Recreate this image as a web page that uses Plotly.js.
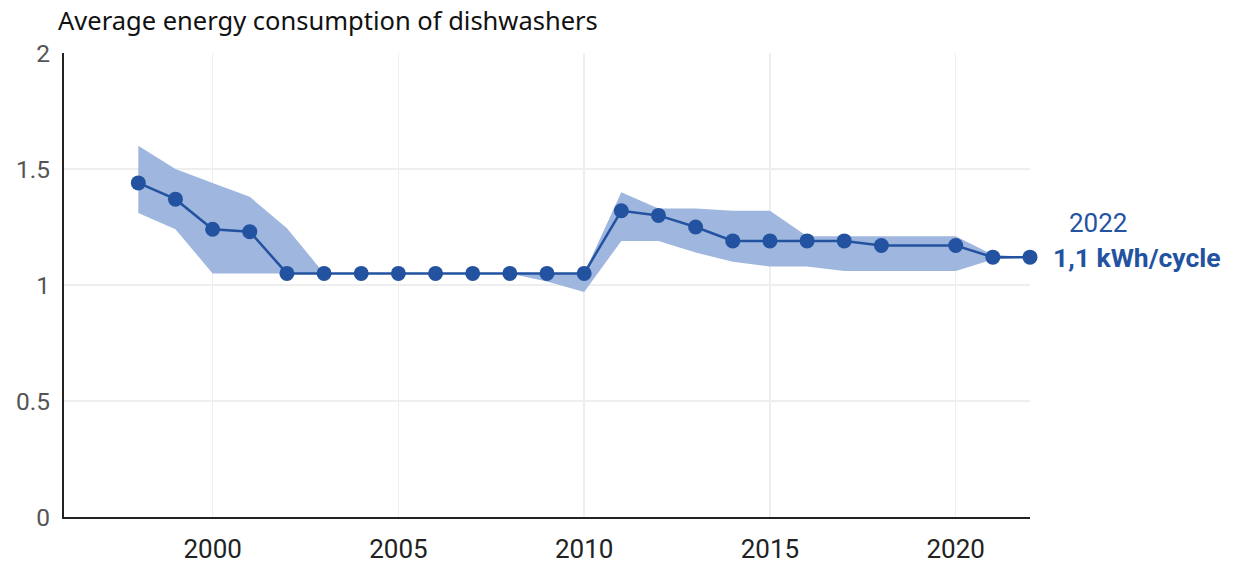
<!DOCTYPE html>
<html><head><meta charset="utf-8">
<script src="https://cdn.plot.ly/plotly-3.0.1.min.js"></script>
<style>body{margin:0;background:#fff}#chart{width:1240px;height:564px}</style>
</head><body><div id="chart"></div>
<script>
const years = [1998,1999,2000,2001,2002,2003,2004,2005,2006,2007,2008,2009,2010,2011,2012,2013,2014,2015,2016,2017,2018,2020,2021,2022];
const avg   = [1.44,1.37,1.24,1.23,1.05,1.05,1.05,1.05,1.05,1.05,1.05,1.05,1.05,1.32,1.30,1.25,1.19,1.19,1.19,1.19,1.17,1.17,1.12,1.12];
const upper = [1.60,1.50,1.44,1.38,1.245,1.05,1.05,1.05,1.05,1.05,1.05,1.05,1.05,1.40,1.33,1.33,1.32,1.32,1.21,1.21,1.21,1.21,1.13,1.12];
const lower = [1.31,1.24,1.05,1.05,1.05,1.05,1.05,1.05,1.05,1.05,1.05,1.015,0.97,1.19,1.19,1.14,1.10,1.08,1.08,1.06,1.06,1.06,1.11,1.12];
const xTicks = [2000,2005,2010,2015,2020];
const yTicks = [0,0.5,1,1.5,2];
const yTickText = ['0','0.5','1','1.5','2'];
const lastLabelYear = '2022';
const lastLabelValue = '1,1 kWh/cycle';

const blue = '#2353a0';
const band = '#9fb6de';

const traces = [
  {x: years, y: lower, mode:'lines', line:{width:0, color:band}, hoverinfo:'skip', showlegend:false},
  {x: years, y: upper, mode:'lines', line:{width:0, color:band}, fill:'tonexty', fillcolor:band, hoverinfo:'skip', showlegend:false},
  {x: years, y: avg, mode:'lines+markers', line:{color:blue, width:2.5}, marker:{color:blue, size:15}, cliponaxis:false, showlegend:false}
];
const lastIdx = years.length-1;
const layout = {
  width:1240, height:564,
  margin:{l:64, r:210, t:53, b:47},
  paper_bgcolor:'#fff', plot_bgcolor:'#fff',
  font:{family:'Roboto, sans-serif', color:'#222'},
  title:{text:'Average energy consumption of dishwashers', x:0, xref:'paper', xanchor:'left', y:0.963, yanchor:'middle', pad:{l:-6},
         font:{family:'Noto Sans, sans-serif', size:25.5, color:'#111'}},
  xaxis:{range:[1996,2022], tickvals:xTicks, ticktext:xTicks.map(String), showgrid:true, gridcolor:'#eeeeee', gridwidth:1.5,
         zeroline:false, showline:true, linecolor:'#222', linewidth:2, ticks:'', tickfont:{size:26, color:'#222'}, ticklabelstandoff:8},
  yaxis:{range:[0,2], tickvals:yTicks, ticktext:yTickText, showgrid:true, gridcolor:'#eeeeee', gridwidth:1.5,
         zeroline:false, showline:true, linecolor:'#222', linewidth:2, ticks:'', tickfont:{size:24.5, color:'#555'}, ticklabelstandoff:7},
  annotations:[
    {x:years[lastIdx], y:avg[lastIdx], xref:'x', yref:'y', text:lastLabelYear, showarrow:false, xanchor:'center', yanchor:'middle',
     xshift:68, yshift:34, font:{family:'Roboto, sans-serif', size:26, color:blue}},
    {x:years[lastIdx], y:avg[lastIdx], xref:'x', yref:'y', text:'<b>'+lastLabelValue+'</b>', showarrow:false, xanchor:'left', yanchor:'middle',
     xshift:21, yshift:0, font:{family:'Roboto, sans-serif', size:26.5, color:blue}}
  ]
};
Plotly.newPlot('chart', traces, layout, {displayModeBar:false, staticPlot:true});
</script></body></html>
